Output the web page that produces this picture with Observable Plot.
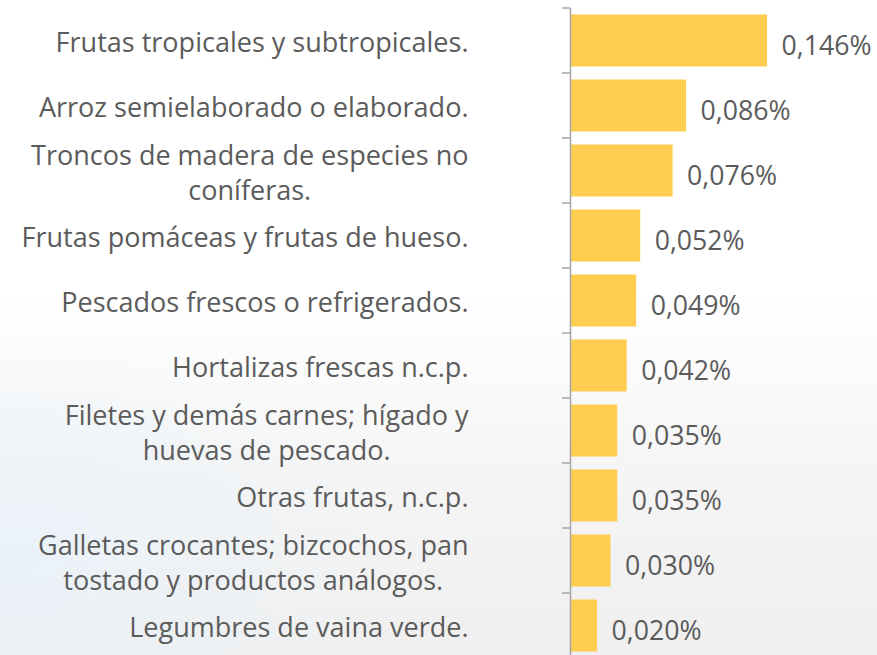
<!DOCTYPE html>
<html><head><meta charset="utf-8">
<script src="https://cdn.jsdelivr.net/npm/d3@7"></script>
<script src="https://cdn.jsdelivr.net/npm/@observablehq/plot@0.6"></script>
<style>
html,body{margin:0;padding:0;}
body{width:877px;height:655px;overflow:hidden;
background:
 radial-gradient(ellipse at 2% 85%, rgba(232,242,250,0.8) 0%, rgba(255,255,255,0) 30%),
 linear-gradient(to bottom,#ffffff 0%,#ffffff 45%,#f5f5f5 72%,#efefef 100%);}
#chart svg{display:block;background:transparent;}
</style></head><body><div id="chart"></div>
<script>
const categories = [
  "Frutas tropicales y subtropicales.",
  "Arroz semielaborado o elaborado.",
  "Troncos de madera de especies no coníferas.",
  "Frutas pomáceas y frutas de hueso.",
  "Pescados frescos o refrigerados.",
  "Hortalizas frescas n.c.p.",
  "Filetes y demás carnes; hígado y huevas de pescado.",
  "Otras frutas, n.c.p.",
  "Galletas crocantes; bizcochos, pan tostado y productos análogos.",
  "Legumbres de vaina verde."
];
const tickLabels = [
  "Frutas tropicales y subtropicales.",
  "Arroz semielaborado o elaborado.",
  "Troncos de madera de especies no\nconíferas.",
  "Frutas pomáceas y frutas de hueso.",
  "Pescados frescos o refrigerados.",
  "Hortalizas frescas n.c.p.",
  "Filetes y demás carnes; hígado y\nhuevas de pescado.",
  "Otras frutas, n.c.p.",
  "Galletas crocantes; bizcochos, pan\ntostado y productos análogos.",
  "Legumbres de vaina verde."
];
const values = [0.146, 0.086, 0.076, 0.052, 0.049, 0.042, 0.035, 0.035, 0.030, 0.020];

const FONT = "'Open Sans', sans-serif";
const TEXT = "#5b5b5b";
// fit font size so the first label spans about the same width as in the reference
const ctx = document.createElement("canvas").getContext("2d");
ctx.font = "100px " + FONT;
const fs = 100 * 413 / ctx.measureText("Frutas tropicales y subtropicales.").width;
const vfs = 100 * 90 / ctx.measureText("0,146%").width;

const fmt = v => v.toFixed(3).replace(".", ",") + "%";
const data = categories.map((c, i) => ({c, v: values[i]}));

const boundaryTicks = (index, scales) => {
  const {x, y} = scales;
  const g = d3.create("svg:g").attr("stroke", "#a6a6a6").attr("stroke-width", 1.5);
  const x0 = x(0);
  const gap = (y.step() - y.bandwidth()) / 2;
  const ys = categories.map(c => y(c) - gap);
  ys.push(ys[ys.length - 1] + y.step());
  for (const yy of ys) g.append("line").attr("x1", x0 - 8).attr("x2", x0).attr("y1", yy).attr("y2", yy);
  return g.node();
};

const plot = Plot.plot({
  width: 877, height: 655,
  marginLeft: 570, marginRight: 91, marginTop: 8, marginBottom: -3,
  style: {background: "transparent", fontFamily: FONT, fontSize: fs + "px", color: TEXT},
  x: {domain: [0, 0.16], axis: null},
  y: {domain: categories, paddingInner: 0.2, paddingOuter: 0.1, round: false, axis: null},
  marks: [
    Plot.barX(data, {x: "v", y: "c", fill: "#FFCD50"}),
    Plot.axisY({tickSize: 0, tickPadding: 102, label: null, fontSize: fs, lineHeight: 1.3, fill: TEXT,
      tickFormat: d => tickLabels[categories.indexOf(d)]}),
    Plot.text(data, {x: "v", y: "c", text: d => fmt(d.v), textAnchor: "start", dx: 14, dy: 5, fill: TEXT, fontSize: vfs}),
    Plot.ruleX([0], {stroke: "#a6a6a6", strokeWidth: 1.5}),
    boundaryTicks
  ]
});
document.getElementById("chart").appendChild(plot);

// center the lines of wrapped labels on each other, keeping the block right-aligned
plot.querySelectorAll('g[aria-label="y-axis tick label"] text').forEach(t => {
  const spans = t.querySelectorAll("tspan");
  if (spans.length < 2) return;
  const w = Math.max(...Array.from(spans, s => s.getComputedTextLength()));
  t.setAttribute("text-anchor", "middle");
  spans.forEach(s => s.setAttribute("x", -w / 2));
});
</script>
</body></html>
